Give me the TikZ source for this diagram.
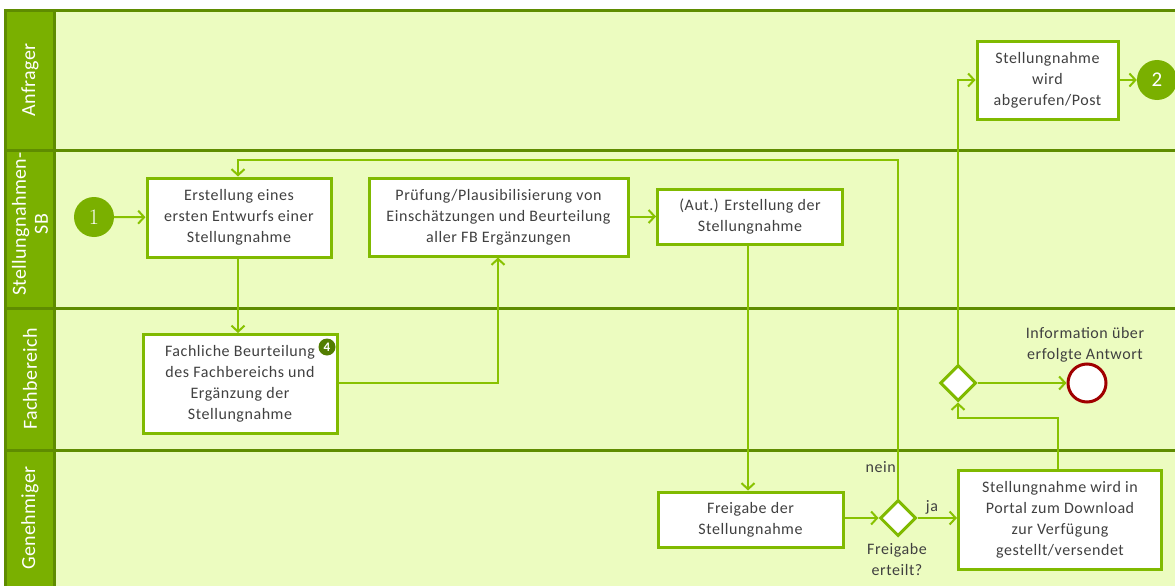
\documentclass[tikz,border=0pt]{standalone}
\usepackage{fontspec}
\setmainfont{Carlito}[LetterSpace=3.5]
\newfontfamily\headfont{Carlito}[LetterSpace=2]
\usetikzlibrary{arrows.meta,shapes.geometric}
\definecolor{lanefill}{RGB}{236,252,192}
\definecolor{headfill}{RGB}{122,176,0}
\definecolor{laneline}{RGB}{95,140,0}
\definecolor{boxline}{RGB}{128,186,0}
\definecolor{conn}{RGB}{136,194,0}
\definecolor{txt}{RGB}{64,64,64}
\definecolor{badge}{RGB}{82,125,0}
\definecolor{endred}{RGB}{160,0,0}
\tikzset{
  taskbox/.style={draw=boxline, line width=3pt, fill=white, inner sep=0pt, align=center,
    text=txt, font=\fontsize{16}{21}\selectfont},
  startev/.style={circle, fill=headfill, draw=none, minimum size=40pt, inner sep=0pt, text=white},
  gate/.style={diamond, draw=boxline, line width=3pt, fill=white, minimum size=36pt, inner sep=0pt},
  endev/.style={circle, draw=endred, line width=3pt, fill=white, minimum size=38pt, inner sep=0pt},
  flow/.style={draw=conn, line width=2pt, -{Straight Barb[length=6pt,width=13pt]}},
  lbl/.style={text=txt, font=\fontsize{16}{21}\selectfont, align=center, inner sep=1pt},
  lanehead/.style={text=white, font=\headfont\fontsize{20}{22}\selectfont, rotate=90, align=center}
}
\begin{document}
\begin{tikzpicture}[x=1pt,y=-1pt]
\useasboundingbox (0,0) rectangle (1175,586);
\begin{scope}
\clip (0,0) rectangle (1175,586);
\fill[white] (0,0) rectangle (1175,586);
\fill[lanefill] (5,10) rectangle (1185,600);
\fill[headfill] (5,10) rectangle (54,600);
\draw[laneline, line width=3pt] (1185,11) -- (5,11) -- (5,600);
\draw[laneline, line width=3pt] (54,11) -- (54,600);
\draw[laneline, line width=3pt] (5,150) -- (1185,150);
\draw[laneline, line width=3pt] (5,308) -- (1185,308);
\draw[laneline, line width=3pt] (5,450) -- (1185,450);
\node[lanehead] (h1) at (30,80) {Anfrager};
\node[lanehead] (h2) at (30,224) {Stellungnahmen-\\SB};
\node[lanehead] (h3) at (30,379) {Fachbereich};
\node[lanehead] (h4) at (30,518) {Genehmiger};

% nodes
\node[startev, font=\fontsize{22}{22}\selectfont] (c1) at (94,217) {\fontspec{Latin Modern Roman}1};
\node[taskbox, minimum width=184pt, minimum height=79pt] (b1) at (239,217.5) {Erstellung eines\\ersten Entwurfs einer\\Stellungnahme};
\node[taskbox, minimum width=259pt, minimum height=78pt] (b2) at (498.5,217) {Prüfung/Plausibilisierung von\\Einschätzungen und Beurteilung\\aller FB Ergänzungen};
\node[taskbox, minimum width=185pt, minimum height=55pt] (b3) at (750,216.5) {(Aut.) Erstellung der\\Stellungnahme};
\node[taskbox, minimum width=194pt, minimum height=99pt] (b4) at (240,384) {Fachliche Beurteilung\\des Fachbereichs und\\Ergänzung der\\Stellungnahme};
\node[circle, fill=badge, minimum size=17pt, inner sep=0pt, text=white, font=\fontsize{13}{13}\selectfont\bfseries] (bd) at (327,347) {4};
\node[taskbox, minimum width=141pt, minimum height=77pt] (b5) at (1047.5,80.5) {Stellungnahme\\wird\\abgerufen/Post};
\node[startev, font=\fontsize{21}{21}\selectfont] (c2) at (1157,80) {2};
\node[taskbox, minimum width=185pt, minimum height=55pt] (b6) at (750.5,519.5) {Freigabe der\\Stellungnahme};
\node[gate] (d1) at (898,518) {};
\node[taskbox, minimum width=203pt, minimum height=99pt] (b7) at (1060,519.5) {Stellungnahme wird in\\Portal zum Download\\zur Verfügung\\gestellt/versendet};
\node[gate] (d2) at (958,383) {};
\node[endev] (e) at (1087,383) {};

% labels
\node[lbl] (l1) at (1085,345) {Information über\\erfolgte Antwort};
\node[lbl] (l2) at (897,559) {Freigabe\\erteilt?};
\node[lbl, anchor=east] (l3) at (897,467) {nein};
\node[lbl] (l4) at (932,507) {ja};

% coordinates
\coordinate (k1) at (238,160);
\coordinate (k2) at (898,160);
\coordinate (k3) at (498,383);
\coordinate (k4) at (1058,418);
\coordinate (k5) at (958,418);
\coordinate (k6) at (958,80);

% connectors
\draw[flow] (c1) -- (b1);
\draw[flow] (b1.south -| k1) -- (b4.north -| k1);
\draw[flow] (b4.east |- k3) -- (k3) -- (b2.south -| k3);
\draw[flow] (b2.east |- b3.west) -- (b3.west);
\draw[flow] (b3.south -| 748,0) -- (b6.north -| 748,0);
\draw[flow] (b6.east |- d1) -- (d1.west);
\draw[flow] (d1.north) -- (k2) -- (k1) -- (b1.north -| k1);
\draw[flow] (d1.east) -- (b7.west |- d1);
\draw[flow] (b7.north -| k4) -- (k4) -- (k5) -- (d2.south);
\draw[flow] (d2.east) -- (e.west);
\draw[flow] (d2.north) -- (k6) -- (b5.west |- k6);
\draw[flow] (b5.east |- c2) -- (c2.west);
\end{scope}
\end{tikzpicture}
\end{document}
